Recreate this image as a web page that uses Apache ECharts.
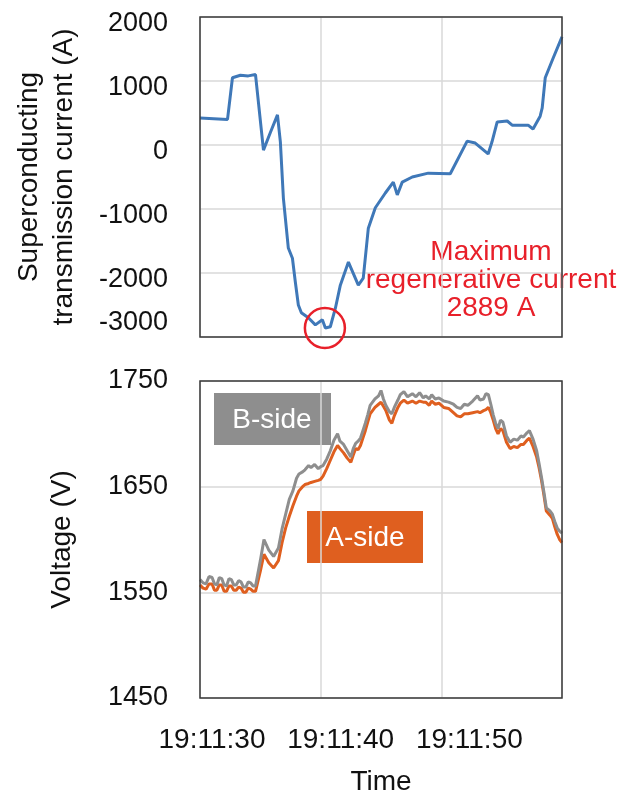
<!DOCTYPE html>
<html>
<head>
<meta charset="utf-8">
<script src="https://cdn.jsdelivr.net/npm/echarts@6/dist/echarts.min.js"></script>
<style>
html, body { margin: 0; padding: 0; background: #fff; }
#chart { width: 621px; height: 794px; }
</style>
</head>
<body>
<div id="chart"></div>
<script>
// seconds after 19:11:00
const currentTime = [30.0, 32.28, 32.69, 33.35, 34.0, 34.6, 35.26, 35.84, 36.42, 36.66, 36.91, 37.32, 37.66, 37.9, 38.15, 38.4, 38.98, 39.56, 40.14, 40.39, 40.55, 40.8, 41.22, 41.63, 42.3, 43.12, 43.53, 43.95, 44.53, 45.36, 46.02, 46.35, 46.76, 47.59, 48.92, 50.74, 52.14, 52.81, 53.88, 54.2, 54.63, 55.46, 55.87, 57.19, 57.6, 58.19, 58.36, 58.61, 59.27, 60.0];
const currentA = [420, 400, 1050, 1090, 1080, 1100, -80, 200, 470, 50, -830, -1610, -1770, -2140, -2500, -2620, -2700, -2810, -2730, -2860, -2889, -2840, -2550, -2190, -1830, -2190, -2080, -1300, -980, -750, -580, -780, -580, -500, -440, -450, 60, 30, -140, 50, 360, 375, 310, 310, 250, 450, 580, 1050, 1360, 1690];

const voltageTime = [
    30.0, 30.25, 30.5, 30.75, 31.0, 31.2, 31.4, 31.6, 31.8, 32.0,
    32.2, 32.4, 32.6, 32.8, 33.0, 33.2, 33.4, 33.6, 33.8, 34.0,
    34.2, 34.4, 34.6, 35.0, 35.3, 35.7, 36.1, 36.5, 36.8, 37.1,
    37.4, 37.7, 38.0, 38.2, 38.5, 38.7, 39.0, 39.2, 39.5, 39.8,
    40.0, 40.2, 40.5, 40.8, 41.1, 41.4, 41.6, 41.9, 42.2, 42.5,
    42.7, 42.9, 43.1, 43.3, 43.5, 43.7, 43.9, 44.1, 44.3, 44.5,
    44.8, 45.0, 45.2, 45.4, 45.7, 45.9, 46.1, 46.4, 46.6, 46.9,
    47.2, 47.6, 47.9, 48.2, 48.5, 48.7, 49.0, 49.2, 49.5, 49.8,
    50.2, 50.6, 51.0, 51.3, 51.6, 51.9, 52.2, 52.6, 53.0, 53.2,
    53.5, 53.7, 53.9, 54.1, 54.3, 54.5, 54.7, 54.9, 55.1, 55.4,
    55.7, 56.0, 56.3, 56.6, 56.8, 57.1, 57.3, 57.6, 57.9, 58.1,
    58.3, 58.5, 58.7, 59.0, 59.2, 59.4, 59.6, 59.8, 60.0
];
const voltageB = [
    1562, 1559, 1558, 1565, 1564, 1558, 1557, 1564, 1563, 1557,
    1556, 1563, 1562, 1557, 1557, 1561, 1560, 1555, 1555, 1560,
    1559, 1556, 1556, 1580, 1600, 1590, 1584, 1592, 1610, 1624,
    1638, 1646, 1658, 1662, 1664, 1666, 1670, 1668, 1671, 1667,
    1669, 1670, 1676, 1684, 1694, 1700, 1693, 1690, 1684, 1678,
    1686, 1691, 1693, 1696, 1703, 1710, 1718, 1727, 1730, 1733,
    1736, 1741, 1733, 1727, 1721, 1719, 1725, 1732, 1737, 1740,
    1735, 1738, 1735, 1739, 1734, 1736, 1733, 1737, 1733, 1734,
    1731, 1730, 1728, 1725, 1724, 1728, 1727, 1731, 1736, 1732,
    1733, 1738, 1737, 1728, 1718, 1710, 1705, 1713, 1711, 1698,
    1692, 1695, 1694, 1698, 1697, 1701, 1703, 1695, 1684, 1672,
    1659, 1645, 1630, 1627, 1624, 1617, 1611, 1608, 1606
];
const voltageA = [
    1557, 1554, 1553, 1558, 1558, 1552, 1552, 1557, 1557, 1551,
    1551, 1556, 1556, 1552, 1552, 1555, 1554, 1550, 1550, 1554,
    1553, 1551, 1551, 1570, 1586, 1578, 1573, 1580, 1597, 1611,
    1622, 1632, 1641, 1646, 1650, 1652, 1653, 1654, 1655, 1656,
    1657, 1660, 1667, 1675, 1683, 1689, 1686, 1682, 1677, 1673,
    1680, 1686, 1685, 1689, 1696, 1703, 1711, 1719, 1722, 1725,
    1728, 1730, 1726, 1722, 1713, 1710, 1717, 1725, 1729, 1732,
    1729, 1731, 1729, 1731, 1730, 1730, 1727, 1731, 1728, 1729,
    1725, 1724, 1720, 1717, 1716, 1719, 1719, 1720, 1721, 1720,
    1722, 1723, 1725, 1720, 1713, 1705, 1700, 1705, 1703, 1692,
    1686, 1688, 1687, 1690, 1690, 1694, 1696, 1688, 1678, 1668,
    1656, 1642, 1627, 1623, 1620, 1612, 1605, 1600, 1597
];

const timeTicks = [30, 40, 50];

const FONT = 'Liberation Sans';
const BLUE = '#3f78b8';
const GRAY = '#8e8e8e';
const ORANGE = '#df5f1f';
const RED = '#e8202a';

const zip = (xs, ys) => xs.map((x, i) => [x, ys[i]]);

const chart = echarts.init(document.getElementById('chart'));

const gridLine = { show: true, lineStyle: { color: '#d9d9d9', width: 1.5 } };
const labelFont = { fontFamily: FONT, fontSize: 27, color: '#111' };
const titleFont = { fontFamily: FONT, fontSize: 28, color: '#111' };

const xBase = {
    type: 'value',
    min: 30,
    max: 60,
    interval: 10,
    axisLine: { show: false },
    axisTick: { show: false },
    splitLine: gridLine,
};

// time labels sit a little right of their grid lines, as in the source figure
const timeRich = {
    t30: { ...titleFont, padding: [0, 0, 0, 24] },
    t40: { ...titleFont, padding: [0, 0, 0, 40] },
    t50: { ...titleFont, padding: [0, 0, 0, 56] },
};

const gridBase = { left: 200, width: 362, show: true, borderColor: '#3a3a3a', borderWidth: 1.5, z: 5, outerBoundsMode: 'none' };

const option = {
    animation: false,
    textStyle: { fontFamily: FONT },
    grid: [
        { ...gridBase, top: 17, height: 320 },
        { ...gridBase, top: 381, height: 317 },
    ],
    xAxis: [
        { ...xBase, gridIndex: 0, axisLabel: { show: false } },
        {
            ...xBase,
            gridIndex: 1,
            name: 'Time',
            nameLocation: 'middle',
            nameGap: 70,
            nameTextStyle: { ...titleFont },
            axisLabel: {
                ...titleFont,
                margin: 28,
                rich: timeRich,
                formatter: v => (timeTicks.includes(v) ? '{t' + v + '|19:11:' + v + '}' : ''),
            },
        },
    ],
    yAxis: [
        {
            type: 'value',
            gridIndex: 0,
            min: -3000,
            max: 2000,
            interval: 1000,
            axisLine: { show: false },
            axisTick: { show: false },
            splitLine: gridLine,
            axisLabel: {
                ...labelFont,
                margin: 32,
                lineHeight: 14,
                formatter: v => (v === -3000 ? v + '\n\n' : '\n' + v),
            },
            name: 'Superconducting\ntransmission current (A)',
            nameLocation: 'middle',
            nameRotate: 90,
            nameGap: 118,
            nameTextStyle: { ...titleFont, lineHeight: 35 },
        },
        {
            type: 'value',
            gridIndex: 1,
            min: 1450,
            max: 1750,
            interval: 100,
            axisLine: { show: false },
            axisTick: { show: false },
            splitLine: gridLine,
            axisLabel: { ...labelFont, margin: 32, formatter: v => String(v) },
            name: 'Voltage (V)',
            nameLocation: 'middle',
            nameRotate: 90,
            nameGap: 124,
            nameTextStyle: { ...titleFont },
        },
    ],
    series: [
        {
            name: 'Current',
            type: 'line',
            xAxisIndex: 0,
            yAxisIndex: 0,
            data: zip(currentTime, currentA),
            showSymbol: false,
            lineStyle: { color: BLUE, width: 3 },
            markPoint: {
                symbol: 'circle',
                symbolSize: 40,
                silent: true,
                itemStyle: { color: 'transparent', borderColor: RED, borderWidth: 2.5 },
                label: { show: false },
                data: [{ coord: [40.35, -2860] }],
            },
        },
        {
            name: 'A-side',
            type: 'line',
            xAxisIndex: 1,
            yAxisIndex: 1,
            data: zip(voltageTime, voltageA),
            showSymbol: false,
            lineStyle: { color: ORANGE, width: 3 },
        },
        {
            name: 'B-side',
            type: 'line',
            xAxisIndex: 1,
            yAxisIndex: 1,
            data: zip(voltageTime, voltageB),
            showSymbol: false,
            lineStyle: { color: GRAY, width: 3 },
        },
    ],
    graphic: [
        {
            type: 'text',
            x: 491,
            y: 280,
            style: {
                text: 'Maximum\nregenerative current\n2889 A',
                fill: RED,
                font: '28px "Liberation Sans"',
                lineHeight: 28,
                align: 'center',
                verticalAlign: 'middle',
            },
        },
        { type: 'rect', shape: { x: 214, y: 393, width: 117, height: 52 }, style: { fill: GRAY } },
        {
            type: 'text',
            x: 272,
            y: 420,
            style: { text: 'B-side', fill: '#fff', font: '28px "Liberation Sans"', align: 'center', verticalAlign: 'middle' },
        },
        { type: 'rect', shape: { x: 307, y: 511, width: 116, height: 52 }, style: { fill: ORANGE } },
        {
            type: 'text',
            x: 365,
            y: 538,
            style: { text: 'A-side', fill: '#fff', font: '28px "Liberation Sans"', align: 'center', verticalAlign: 'middle' },
        },
    ],
};

chart.setOption(option);
</script>
</body>
</html>
